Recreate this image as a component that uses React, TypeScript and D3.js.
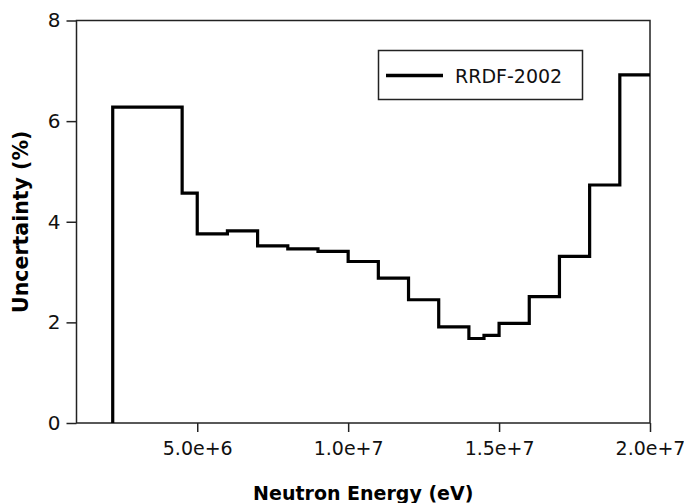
import React, { useRef, useEffect } from 'react';
import * as d3 from 'd3';

// bin edges (eV) and uncertainty (%) per bin
const binEdges = [2.2e6, 4.5e6, 5e6, 6e6, 7e6, 8e6, 9e6, 1e7, 1.1e7, 1.2e7, 1.3e7, 1.4e7, 1.45e7, 1.5e7, 1.6e7, 1.7e7, 1.8e7, 1.9e7, 2e7];
const uncertainty = [6.28, 4.57, 3.76, 3.82, 3.52, 3.46, 3.41, 3.21, 2.88, 2.45, 1.91, 1.68, 1.74, 1.98, 2.51, 3.31, 4.73, 6.92];
const xTicks = [5e6, 1e7, 1.5e7, 2e7];
const yTicks = [0, 2, 4, 6, 8];
const seriesName = 'RRDF-2002';

const FONT = '"DejaVu Sans", Verdana, sans-serif';

const App = () => {
  const svgRef = useRef<SVGSVGElement>(null);

  useEffect(() => {
    const svg = d3.select(svgRef.current);
    svg.selectAll('*').remove();

    const left = 76.5, right = 650, top = 20.5, bottom = 423;

    const x = d3.scaleLinear().domain([1e6, 2e7]).range([left, right]);
    const y = d3.scaleLinear().domain([0, 8]).range([bottom, top]);

    // frame
    svg.append('rect')
      .attr('x', left).attr('y', top)
      .attr('width', right - left).attr('height', bottom - top)
      .attr('fill', 'none').attr('stroke', '#222').attr('stroke-width', 1.5);

    // x axis
    const xAxis = svg.append('g')
      .attr('transform', `translate(0,${bottom})`)
      .call(d3.axisBottom(x).tickValues(xTicks).tickSize(9).tickSizeOuter(0).tickPadding(10).tickFormat(d3.format('.1e')));
    xAxis.select('.domain').remove();
    xAxis.selectAll('line').attr('stroke', '#222').attr('stroke-width', 1.5);
    xAxis.selectAll('text').attr('font-family', FONT).attr('font-size', 19).attr('fill', '#111');

    // y axis
    const yAxis = svg.append('g')
      .attr('transform', `translate(${left},0)`)
      .call(d3.axisLeft(y).tickValues(yTicks).tickSize(10).tickSizeOuter(0).tickPadding(6).tickFormat(d3.format('d')));
    yAxis.select('.domain').remove();
    yAxis.selectAll('line').attr('stroke', '#222').attr('stroke-width', 1.5);
    yAxis.selectAll('text').attr('font-family', FONT).attr('font-size', 20).attr('fill', '#111');

    // step data: rise from zero at first edge, then hold each bin value
    const pts: [number, number][] = [[binEdges[0], 0]];
    uncertainty.forEach((v, i) => pts.push([binEdges[i], v]));
    pts.push([binEdges[binEdges.length - 1], uncertainty[uncertainty.length - 1]]);

    svg.append('path')
      .datum(pts)
      .attr('fill', 'none')
      .attr('stroke', '#000')
      .attr('stroke-width', 3.2)
      .attr('stroke-linejoin', 'miter')
      .attr('d', d3.line<[number, number]>()
        .x(d => x(d[0]))
        .y(d => y(d[1]))
        .curve(d3.curveStepAfter));

    // legend
    const lg = svg.append('g');
    lg.append('rect')
      .attr('x', 378.5).attr('y', 50.5).attr('width', 204).attr('height', 49)
      .attr('fill', '#fff').attr('stroke', '#222').attr('stroke-width', 1.5);
    lg.append('line')
      .attr('x1', 386).attr('x2', 443).attr('y1', 75.5).attr('y2', 75.5)
      .attr('stroke', '#000').attr('stroke-width', 3.5);
    lg.append('text')
      .attr('x', 455).attr('y', 82.5)
      .attr('font-family', FONT).attr('font-size', 19).attr('fill', '#111')
      .text(seriesName);

    // axis titles
    svg.append('text')
      .attr('x', (left + right) / 2).attr('y', 500)
      .attr('text-anchor', 'middle')
      .attr('font-family', FONT).attr('font-size', 19).attr('font-weight', 'bold')
      .text('Neutron Energy (eV)');

    svg.append('text')
      .attr('transform', `translate(28,${(top + bottom) / 2}) rotate(-90)`)
      .attr('text-anchor', 'middle')
      .attr('font-family', FONT).attr('font-size', 20.5).attr('font-weight', 'bold')
      .text('Uncertainty (%)');
  }, []);

  return (
    <svg ref={svgRef} width="684" height="503"
      style={{ position: 'absolute', left: 0, top: 0, background: '#fff' }}></svg>
  );
};

export default App;
